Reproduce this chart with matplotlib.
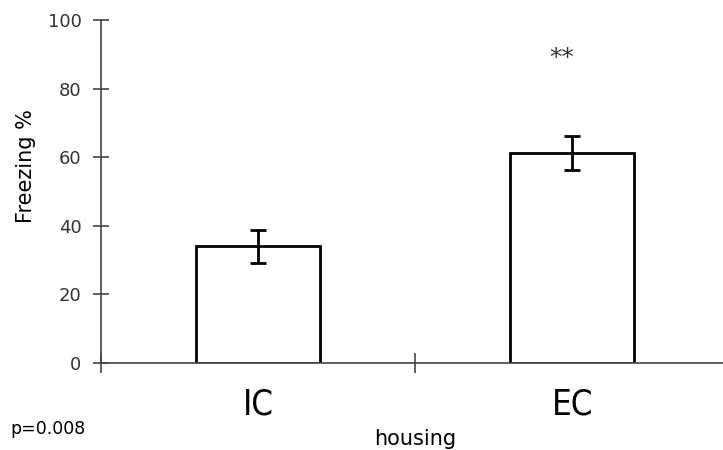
import matplotlib.pyplot as plt

groups = ['IC', 'EC']
freezing = [34.0, 61.2]
sem = [4.7, 5.0]
yticks = [0, 20, 40, 60, 80, 100]

fig = plt.figure(figsize=(7.23, 4.5), dpi=100)
ax = fig.add_axes([0.1397, 0.1933, 0.8603, 0.7623])

pos = [0.5, 1.5]
ax.bar(pos, freezing, width=0.395, color='white', edgecolor='black', linewidth=2.0, zorder=2)
ax.errorbar(pos, freezing, yerr=sem, fmt='none', ecolor='black', elinewidth=2.0,
            capsize=6, capthick=2.0, zorder=3)

ax.set_xlim(0, 1.98)
ax.set_ylim(0, 100)
ax.set_yticks(yticks)
ax.set_xticks([0, 1])
ax.set_xticklabels([])
ax.spines['top'].set_visible(False)
ax.spines['right'].set_visible(False)
for s in ('left', 'bottom'):
    ax.spines[s].set_color('#444444')
    ax.spines[s].set_linewidth(1.2)
ax.tick_params(axis='y', direction='inout', length=12, width=1.2, color='#444444',
               labelsize=13, labelcolor='#333333', pad=8)
ax.tick_params(axis='x', direction='inout', length=15, width=1.2, color='#444444')

# category labels under the bars
for p, g in zip(pos, groups):
    ax.text(p, -7, g, ha='center', va='top', fontsize=25, transform=ax.transData,
            family='DejaVu Sans', fontstretch='condensed')

ax.text(1.5 - 0.035, 89, '**', ha='center', va='center', fontsize=18, color='#333333')

fig.text(0.014, 0.027, 'p=0.008', fontsize=12.5, ha='left', va='bottom')
fig.text(0.574, 0.003, 'housing', fontsize=15, ha='center', va='bottom')
fig.text(0.036, 0.63, 'Freezing %', fontsize=15, rotation=90, ha='center', va='center')

fig.savefig('out.png', dpi=100)
